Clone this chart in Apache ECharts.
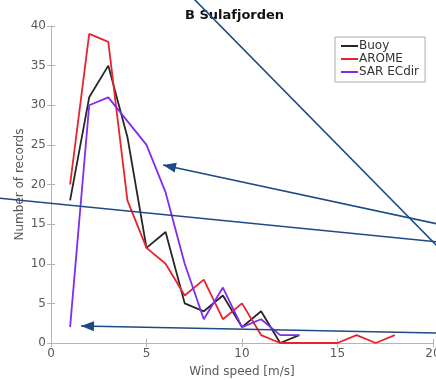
<!DOCTYPE html>
<html>
<head>
<meta charset="utf-8">
<script src="https://cdn.jsdelivr.net/npm/echarts@6/dist/echarts.min.js"></script>
<style>
  html, body { margin: 0; padding: 0; background: #fff; }
  #chart { width: 436px; height: 380px; }
</style>
</head>
<body>
<div id="chart"></div>
<script>
// wind speed bins [m/s]
const buoyX = [1, 2, 3, 4, 5, 6, 7, 8, 9, 10, 11, 12, 13];
const buoyY = [18, 31, 35, 26, 12, 14, 5, 4, 6, 2, 4, 0, 1];
const aromeX = [1, 2, 3, 4, 5, 6, 7, 8, 9, 10, 11, 12, 13, 14, 15, 16, 17, 18];
const aromeY = [20, 39, 38, 18, 12, 10, 6, 8, 3, 5, 1, 0, 0, 0, 0, 1, 0, 1];
const sarX = [1, 2, 3, 4, 5, 6, 7, 8, 9, 10, 11, 12, 13];
const sarY = [2, 30, 31, 28, 25, 19, 10, 3, 7, 2, 3, 1, 1];

// annotation arrows drawn over the figure (pixel coords: from -> to, head at "to")
const arrows = [
  { from: [193, -2], to: [438, 247], head: false },
  { from: [438, 224], to: [163, 165], head: true },
  { from: [-2, 198], to: [438, 242], head: false },
  { from: [438, 333], to: [81, 326], head: true }
];

const pairs = (xs, ys) => xs.map((x, i) => [x, ys[i]]);

const arrowColor = '#1d4a86';
let graphics = [];
arrows.forEach(a => {
  graphics.push({
    type: 'line', z: 100,
    shape: { x1: a.from[0], y1: a.from[1], x2: a.to[0], y2: a.to[1] },
    style: { stroke: arrowColor, lineWidth: 1.6 }
  });
  if (a.head) {
    let dx = a.from[0] - a.to[0], dy = a.from[1] - a.to[1];
    let len = Math.sqrt(dx * dx + dy * dy);
    let ux = dx / len, uy = dy / len;
    let L = 13, W = 5;
    let bx = a.to[0] + ux * L, by = a.to[1] + uy * L;
    graphics.push({
      type: 'polygon', z: 100,
      shape: { points: [a.to, [bx - uy * W, by + ux * W], [bx + uy * W, by - ux * W]] },
      style: { fill: arrowColor }
    });
  }
});

graphics.push({
  type: 'text', left: 185, top: 9, z: 50,
  style: { text: 'B Sulafjorden', font: 'bold 13px "DejaVu Sans"', fill: '#111' }
});

const axisGray = '#b4b4b4';
const labelGray = '#5a5a5a';

let chart = echarts.init(document.getElementById('chart'));
chart.setOption({
  animation: false,
  textStyle: { fontFamily: 'DejaVu Sans' },
  graphic: graphics,
  grid: { left: 51, top: 26, width: 382, height: 317, containLabel: false, outerBoundsMode: 'none' },
  legend: {
    orient: 'vertical',
    left: 335, top: 37,
    padding: [3, 6, 4, 6],
    itemGap: 1,
    itemWidth: 17, itemHeight: 2,
    backgroundColor: '#fff',
    borderColor: '#aaa', borderWidth: 1,
    textStyle: { color: '#333', fontSize: 12, padding: [0, 0, 0, -4] },
    icon: 'rect',
    data: ['Buoy', 'AROME', 'SAR ECdir']
  },
  xAxis: [{
    type: 'value', min: 0, max: 20, interval: 5,
    name: 'Wind speed [m/s]', nameLocation: 'middle', nameGap: 23, nameMoveOverlap: false,
    nameTextStyle: { color: labelGray, fontSize: 12 },
    axisLine: { show: true, lineStyle: { color: axisGray } },
    axisTick: { show: true, inside: true, length: 4, lineStyle: { color: axisGray } },
    axisLabel: { color: labelGray, fontSize: 12, margin: 5 },
    splitLine: { show: false }
  }, {
    type: 'value', min: 0, max: 20, interval: 5, position: 'top',
    axisLine: { show: true, lineStyle: { color: axisGray } },
    axisTick: { show: true, inside: true, length: 4, lineStyle: { color: axisGray } },
    axisLabel: { show: false },
    splitLine: { show: false }
  }],
  yAxis: [{
    type: 'value', min: 0, max: 40, interval: 5,
    name: 'Number of records', nameLocation: 'middle', nameGap: 25, nameMoveOverlap: false,
    nameTextStyle: { color: labelGray, fontSize: 12 },
    axisLine: { show: true, lineStyle: { color: axisGray } },
    axisTick: { show: true, inside: true, length: 4, lineStyle: { color: axisGray } },
    axisLabel: { color: labelGray, fontSize: 12, margin: 5 },
    splitLine: { show: false }
  }, {
    type: 'value', min: 0, max: 40, interval: 5, position: 'right',
    axisLine: { show: true, lineStyle: { color: axisGray } },
    axisTick: { show: true, inside: true, length: 4, lineStyle: { color: axisGray } },
    axisLabel: { show: false },
    splitLine: { show: false }
  }],
  series: [
    {
      name: 'Buoy', type: 'line', data: pairs(buoyX, buoyY),
      showSymbol: false, symbol: 'none',
      itemStyle: { color: '#262626' }, lineStyle: { color: '#262626', width: 1.8 }
    },
    {
      name: 'AROME', type: 'line', data: pairs(aromeX, aromeY),
      showSymbol: false, symbol: 'none',
      itemStyle: { color: '#e8232f' }, lineStyle: { color: '#e8232f', width: 1.8 }
    },
    {
      name: 'SAR ECdir', type: 'line', data: pairs(sarX, sarY),
      showSymbol: false, symbol: 'none',
      itemStyle: { color: '#7f2cf0' }, lineStyle: { color: '#7f2cf0', width: 1.8 }
    }
  ]
});
</script>
</body>
</html>
